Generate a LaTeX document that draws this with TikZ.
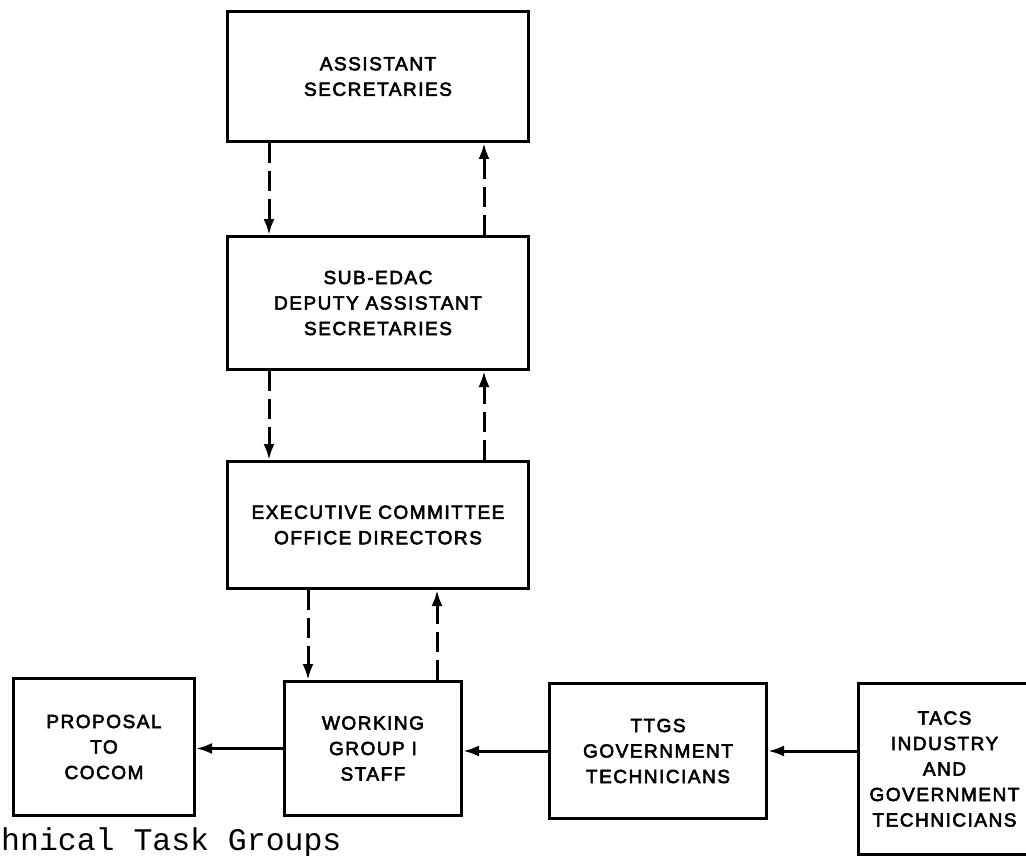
\documentclass[tikz,border=0pt]{standalone}
\usepackage{fontspec}
\usepackage{tikz}
\usetikzlibrary{arrows.meta, positioning}
\newfontfamily\boxfont[LetterSpace=8, FakeBold=3]{Liberation Sans}
\newfontfamily\typefont{Liberation Mono}

\tikzset{
  box/.style={draw, line width=3pt, align=center, anchor=north west, inner sep=0pt,
    font=\boxfont\fontsize{19}{25.5}\selectfont},
  flow/.style={line width=3pt, -{Latex[length=16pt, width=11pt]}},
  dflow/.style={flow, dash pattern=on 20pt off 8pt}
}

\begin{document}
\begin{tikzpicture}[x=1pt, y=-1pt]
% page frame, pixel coordinates
\useasboundingbox (0,0) rectangle (1026,856);
\clip (0,0) rectangle (1026,856);

% upper chain
\node[box, minimum width=301pt, minimum height=130pt] (asst) at (226,10) {ASSISTANT\\SECRETARIES};
\node[box, minimum width=301pt, minimum height=133pt] (subedac) at (226,235) {SUB-EDAC\\DEPUTY ASSISTANT\\SECRETARIES};
\node[box, minimum width=301pt, minimum height=127pt] (exec) at (226,460) {EXECUTIVE COMMITTEE\\OFFICE DIRECTORS};

% bottom row
\node[box, minimum width=181pt, minimum height=137pt] (proposal) at (12,677) {PROPOSAL\\TO\\COCOM};
\node[box, minimum width=177pt, minimum height=134pt] (wg) at (283,680) {WORKING\\GROUP I\\STAFF};
\node[box, minimum width=217pt, minimum height=135pt] (ttgs) at (548,682) {TTGS\\GOVERNMENT\\TECHNICIANS};
\node[box, minimum width=172pt, minimum height=171pt] (tacs) at (857,682) {TACS\\INDUSTRY\\AND\\GOVERNMENT\\TECHNICIANS};

% dashed links down and up
\draw[dflow] ([xshift=-109pt]asst.south) -- ([xshift=-109pt]asst.south |- subedac.north);
\draw[dflow] ([xshift=106pt]asst.south |- subedac.north) -- ([xshift=106pt]asst.south);
\draw[dflow] ([xshift=-109pt]subedac.south) -- ([xshift=-109pt]subedac.south |- exec.north);
\draw[dflow] ([xshift=106pt]subedac.south |- exec.north) -- ([xshift=106pt]subedac.south);
\draw[dflow] ([xshift=-65pt]wg.north |- exec.south) -- ([xshift=-65pt]wg.north);
\draw[dflow] ([xshift=64pt]wg.north) -- ([xshift=64pt]wg.north |- exec.south);

% solid links right to left
\draw[flow] (wg.west) -- (wg.west -| proposal.east);
\draw[flow] (ttgs.west) -- (ttgs.west -| wg.east);
\draw[flow] (ttgs.east -| tacs.west) -- (ttgs.east);

% cut off caption
\node[font=\typefont\fontsize{31.5}{31.5}\selectfont, anchor=base west, inner sep=0pt] (caption) at (1,850) {hnical Task Groups};
\end{tikzpicture}
\end{document}
